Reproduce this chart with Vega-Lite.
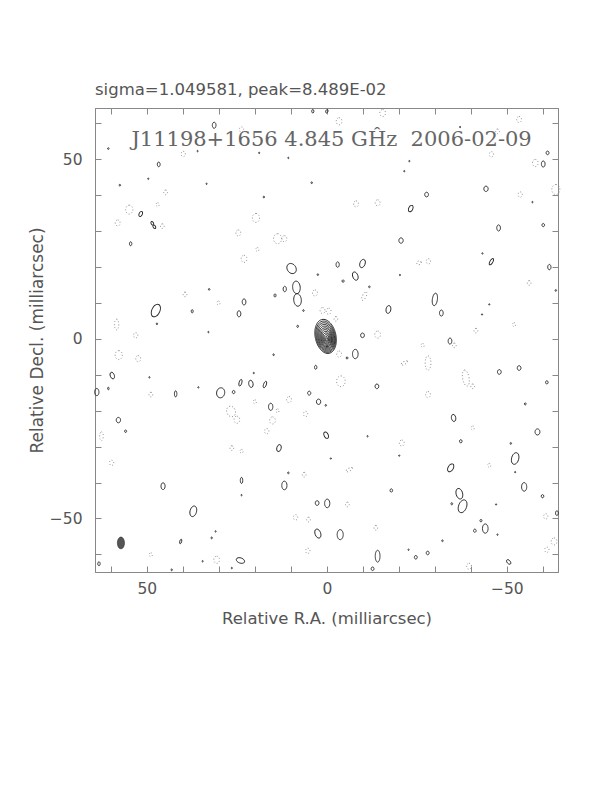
{
"$schema":"https://vega.github.io/schema/vega-lite/v6.json",
"width":463,"height":464,
"autosize":{"type":"none"},
"padding":{"left":95,"top":108,"right":54,"bottom":220},
"background":"white",
"config":{"view":{"stroke":"#888","strokeWidth":1},"font":"DejaVu Sans"},
"title":{"text":"sigma=1.049581, peak=8.489E-02","anchor":"start","frame":"group","font":"DejaVu Sans","fontSize":16.5,"fontWeight":"normal","color":"#555","offset":-4,"baseline":"alphabetic"},
"datasets":{
"contours":[
{"x":0.35,"y":0.70,"h":9.6,"k":"e","pa":-12,"s":"p"},
{"x":0.32,"y":0.62,"h":8.8,"k":"e","pa":-12,"s":"p"},
{"x":0.29,"y":0.55,"h":8.0,"k":"e","pa":-12,"s":"p"},
{"x":0.26,"y":0.47,"h":7.2,"k":"e","pa":-12,"s":"p"},
{"x":0.23,"y":0.39,"h":6.4,"k":"e","pa":-12,"s":"p"},
{"x":0.19,"y":0.31,"h":5.6,"k":"e","pa":-12,"s":"p"},
{"x":0.16,"y":0.23,"h":4.8,"k":"e","pa":-12,"s":"p"},
{"x":0.13,"y":0.16,"h":4.0,"k":"e","pa":-12,"s":"p"},
{"x":0.10,"y":0.08,"h":3.2,"k":"e","pa":-12,"s":"p"},
{"x":0.06,"y":0.00,"h":2.4,"k":"e","pa":-12,"s":"p"},
{"x":0.03,"y":-0.08,"h":1.6,"k":"e","pa":-12,"s":"p"},
{"x":0.00,"y":-0.15,"h":0.9,"k":"e","pa":-12,"s":"p"},
{"x":31.3,"y":59.5,"h":1.7,"k":"e","pa":0,"s":"p"},
{"x":46.7,"y":48.6,"h":1.3,"k":"e","pa":0,"s":"p"},
{"x":51.7,"y":34.8,"h":1.5,"k":"e","pa":25,"s":"p"},
{"x":48.2,"y":31.7,"h":2.2,"k":"8","pa":-30,"s":"p"},
{"x":54.5,"y":26.5,"h":1.1,"k":"e","pa":0,"s":"p"},
{"x":9.8,"y":19.6,"h":3.0,"k":"r","pa":-35,"s":"p"},
{"x":8.3,"y":12.6,"h":7.0,"k":"8","pa":-5,"s":"p"},
{"x":11.7,"y":13.9,"h":1.5,"k":"e","pa":0,"s":"p"},
{"x":14.4,"y":12.1,"h":0.9,"k":"e","pa":0,"s":"p"},
{"x":23.0,"y":10.3,"h":1.7,"k":"e","pa":0,"s":"p"},
{"x":24.4,"y":7.0,"h":1.7,"k":"e","pa":0,"s":"p"},
{"x":37.4,"y":7.7,"h":0.9,"k":"e","pa":0,"s":"p"},
{"x":47.5,"y":7.9,"h":3.7,"k":"e","pa":25,"s":"p"},
{"x":3.1,"y":-7.9,"h":1.1,"k":"e","pa":0,"s":"p"},
{"x":59.6,"y":-10.2,"h":1.9,"k":"e","pa":-20,"s":"p"},
{"x":60.7,"y":-13.8,"h":0.7,"k":"e","pa":0,"s":"p"},
{"x":63.9,"y":-14.8,"h":2.0,"k":"e","pa":0,"s":"p"},
{"x":42.0,"y":-15.3,"h":1.7,"k":"n","pa":0,"s":"p"},
{"x":29.5,"y":-15.0,"h":2.8,"k":"r","pa":10,"s":"p"},
{"x":25.9,"y":-14.8,"h":0.9,"k":"r","pa":0,"s":"p"},
{"x":24.0,"y":-12.2,"h":1.9,"k":"n","pa":15,"s":"p"},
{"x":21.1,"y":-12.5,"h":2.0,"k":"e","pa":-10,"s":"p"},
{"x":17.2,"y":-12.7,"h":1.9,"k":"n","pa":20,"s":"p"},
{"x":4.9,"y":-15.1,"h":1.1,"k":"r","pa":0,"s":"p"},
{"x":2.3,"y":-17.5,"h":1.5,"k":"r","pa":0,"s":"p"},
{"x":15.6,"y":-18.9,"h":2.0,"k":"e","pa":0,"s":"p"},
{"x":57.9,"y":-22.6,"h":1.5,"k":"r","pa":0,"s":"p"},
{"x":55.9,"y":-25.7,"h":0.7,"k":"r","pa":0,"s":"p"},
{"x":13.3,"y":-30.4,"h":2.0,"k":"e","pa":15,"s":"p"},
{"x":0.2,"y":-26.8,"h":1.9,"k":"e","pa":-25,"s":"p"},
{"x":45.5,"y":-41.0,"h":1.9,"k":"e","pa":0,"s":"p"},
{"x":23.7,"y":-39.4,"h":1.7,"k":"n","pa":0,"s":"p"},
{"x":11.8,"y":-40.8,"h":2.4,"k":"e","pa":0,"s":"p"},
{"x":2.7,"y":-45.7,"h":1.3,"k":"r","pa":0,"s":"p"},
{"x":-0.1,"y":-45.8,"h":2.4,"k":"e","pa":0,"s":"p"},
{"x":37.1,"y":-48.0,"h":3.0,"k":"e","pa":15,"s":"p"},
{"x":2.5,"y":-54.2,"h":2.6,"k":"e","pa":-20,"s":"p"},
{"x":40.6,"y":-56.4,"h":1.3,"k":"n","pa":15,"s":"p"},
{"x":24.0,"y":-61.7,"h":2.4,"k":"e","pa":-70,"s":"p"},
{"x":63.3,"y":-62.6,"h":1.1,"k":"e","pa":0,"s":"p"},
{"x":3.9,"y":63.4,"h":1.0,"k":"e","pa":0,"s":"p"},
{"x":0.0,"y":63.4,"h":1.0,"k":"e","pa":20,"s":"p"},
{"x":60.7,"y":53.0,"h":0.5,"k":"r","pa":0,"s":"p"},
{"x":57.5,"y":42.8,"h":0.5,"k":"r","pa":0,"s":"p"},
{"x":49.6,"y":44.6,"h":0.4,"k":"r","pa":0,"s":"p"},
{"x":33.4,"y":43.2,"h":0.4,"k":"r","pa":0,"s":"p"},
{"x":17.5,"y":39.5,"h":0.5,"k":"r","pa":0,"s":"p"},
{"x":10.7,"y":50.4,"h":0.4,"k":"r","pa":0,"s":"p"},
{"x":4.2,"y":43.5,"h":0.5,"k":"r","pa":0,"s":"p"},
{"x":18.8,"y":51.8,"h":0.4,"k":"r","pa":0,"s":"p"},
{"x":35.9,"y":52.3,"h":0.4,"k":"r","pa":0,"s":"p"},
{"x":32.7,"y":13.8,"h":0.5,"k":"r","pa":0,"s":"p"},
{"x":47.2,"y":4.2,"h":0.5,"k":"r","pa":0,"s":"p"},
{"x":8.1,"y":3.5,"h":0.6,"k":"r","pa":0,"s":"p"},
{"x":14.8,"y":-4.4,"h":0.5,"k":"r","pa":0,"s":"p"},
{"x":2.5,"y":17.9,"h":0.5,"k":"r","pa":0,"s":"p"},
{"x":6.5,"y":7.9,"h":0.5,"k":"r","pa":0,"s":"p"},
{"x":20.3,"y":-9.5,"h":0.4,"k":"r","pa":0,"s":"p"},
{"x":35.7,"y":-13.5,"h":0.4,"k":"r","pa":0,"s":"p"},
{"x":49.3,"y":-10.7,"h":0.4,"k":"r","pa":0,"s":"p"},
{"x":10.7,"y":-37.3,"h":0.5,"k":"r","pa":0,"s":"p"},
{"x":32.0,"y":-55.4,"h":0.5,"k":"r","pa":0,"s":"p"},
{"x":30.9,"y":-53.6,"h":0.4,"k":"r","pa":0,"s":"p"},
{"x":34.5,"y":-61.9,"h":0.4,"k":"r","pa":0,"s":"p"},
{"x":26.4,"y":-63.8,"h":0.4,"k":"r","pa":0,"s":"p"},
{"x":43.1,"y":-64.3,"h":0.5,"k":"r","pa":0,"s":"p"},
{"x":32.9,"y":1.9,"h":0.4,"k":"r","pa":0,"s":"p"},
{"x":23.7,"y":-43.5,"h":0.4,"k":"r","pa":0,"s":"p"},
{"x":-11.8,"y":14.5,"h":0.5,"k":"r","pa":0,"s":"p"},
{"x":-43.2,"y":23.8,"h":0.4,"k":"r","pa":0,"s":"p"},
{"x":-21.5,"y":46.7,"h":0.4,"k":"r","pa":0,"s":"p"},
{"x":-22.9,"y":49.5,"h":0.4,"k":"r","pa":0,"s":"p"},
{"x":-37.0,"y":59.0,"h":0.4,"k":"r","pa":0,"s":"p"},
{"x":-45.1,"y":9.6,"h":0.4,"k":"r","pa":0,"s":"p"},
{"x":-43.1,"y":6.8,"h":0.4,"k":"r","pa":0,"s":"p"},
{"x":-20.3,"y":17.8,"h":0.4,"k":"r","pa":0,"s":"p"},
{"x":-51.1,"y":-29.1,"h":0.5,"k":"r","pa":0,"s":"p"},
{"x":-11.3,"y":-27.1,"h":0.4,"k":"r","pa":0,"s":"p"},
{"x":-20.1,"y":-32.5,"h":0.4,"k":"r","pa":0,"s":"p"},
{"x":-63.6,"y":13.5,"h":0.5,"k":"r","pa":0,"s":"p"},
{"x":0.3,"y":-18.5,"h":0.5,"k":"r","pa":0,"s":"p"},
{"x":-1.1,"y":-33.3,"h":0.4,"k":"r","pa":0,"s":"p"},
{"x":-32.1,"y":-56.2,"h":0.5,"k":"r","pa":0,"s":"p"},
{"x":-22.7,"y":-58.7,"h":0.4,"k":"r","pa":0,"s":"p"},
{"x":-47.4,"y":-54.5,"h":0.4,"k":"r","pa":0,"s":"p"},
{"x":-47.0,"y":-46.1,"h":0.4,"k":"r","pa":0,"s":"p"},
{"x":-52.3,"y":-37.1,"h":0.4,"k":"r","pa":0,"s":"p"},
{"x":-57.1,"y":38.1,"h":0.4,"k":"r","pa":0,"s":"p"},
{"x":-60.1,"y":48.7,"h":1.7,"k":"e","pa":0,"s":"p"},
{"x":-61.3,"y":51.8,"h":1.0,"k":"r","pa":0,"s":"p"},
{"x":-27.7,"y":40.2,"h":1.3,"k":"r","pa":0,"s":"p"},
{"x":-44.2,"y":41.8,"h":1.5,"k":"r","pa":0,"s":"p"},
{"x":-23.3,"y":36.3,"h":1.9,"k":"e","pa":25,"s":"p"},
{"x":-47.7,"y":30.9,"h":1.7,"k":"e","pa":0,"s":"p"},
{"x":-60.1,"y":31.7,"h":0.9,"k":"r","pa":0,"s":"p"},
{"x":-20.6,"y":27.4,"h":1.5,"k":"r","pa":0,"s":"p"},
{"x":-3.0,"y":20.7,"h":1.5,"k":"e","pa":0,"s":"p"},
{"x":-9.9,"y":21.0,"h":2.4,"k":"e","pa":20,"s":"p"},
{"x":-7.9,"y":17.5,"h":2.4,"k":"e","pa":-20,"s":"p"},
{"x":-4.5,"y":16.1,"h":0.7,"k":"r","pa":0,"s":"p"},
{"x":-45.7,"y":21.5,"h":2.0,"k":"n","pa":30,"s":"p"},
{"x":-61.8,"y":20.0,"h":1.5,"k":"e","pa":0,"s":"p"},
{"x":-17.1,"y":8.2,"h":2.2,"k":"e","pa":10,"s":"p"},
{"x":-30.0,"y":11.0,"h":3.5,"k":"n","pa":8,"s":"p"},
{"x":-31.8,"y":7.2,"h":1.7,"k":"e","pa":0,"s":"p"},
{"x":-9.9,"y":1.0,"h":1.3,"k":"r","pa":0,"s":"p"},
{"x":-34.2,"y":-0.6,"h":1.7,"k":"e","pa":0,"s":"p"},
{"x":-7.9,"y":-4.2,"h":2.6,"k":"e","pa":0,"s":"p"},
{"x":-5.6,"y":-5.3,"h":0.6,"k":"r","pa":0,"s":"p"},
{"x":-47.9,"y":-9.2,"h":1.3,"k":"r","pa":0,"s":"p"},
{"x":-53.4,"y":-8.1,"h":1.3,"k":"r","pa":0,"s":"p"},
{"x":-61.1,"y":-12.1,"h":0.9,"k":"r","pa":0,"s":"p"},
{"x":-13.9,"y":-13.2,"h":1.3,"k":"r","pa":0,"s":"p"},
{"x":-35.2,"y":-22.0,"h":2.0,"k":"e","pa":-10,"s":"p"},
{"x":-55.1,"y":-18.1,"h":0.6,"k":"r","pa":0,"s":"p"},
{"x":-37.2,"y":-28.5,"h":0.9,"k":"r","pa":0,"s":"p"},
{"x":-58.5,"y":-25.9,"h":1.7,"k":"r","pa":0,"s":"p"},
{"x":-52.3,"y":-33.3,"h":3.3,"k":"e","pa":15,"s":"p"},
{"x":-34.4,"y":-35.9,"h":2.4,"k":"e","pa":30,"s":"p"},
{"x":-17.9,"y":-42.2,"h":0.9,"k":"r","pa":0,"s":"p"},
{"x":-36.8,"y":-43.1,"h":3.0,"k":"e","pa":-15,"s":"p"},
{"x":-37.7,"y":-46.6,"h":3.7,"k":"e","pa":20,"s":"p"},
{"x":-34.7,"y":-45.9,"h":0.6,"k":"r","pa":0,"s":"p"},
{"x":-54.8,"y":-41.2,"h":2.4,"k":"e","pa":0,"s":"p"},
{"x":-59.9,"y":-43.8,"h":0.9,"k":"r","pa":0,"s":"p"},
{"x":-3.7,"y":-54.5,"h":2.8,"k":"e","pa":0,"s":"p"},
{"x":-44.0,"y":-52.8,"h":2.6,"k":"e","pa":0,"s":"p"},
{"x":-41.1,"y":-53.4,"h":0.9,"k":"r","pa":0,"s":"p"},
{"x":-42.8,"y":-50.6,"h":0.7,"k":"r","pa":0,"s":"p"},
{"x":-14.1,"y":-60.5,"h":3.3,"k":"n","pa":0,"s":"p"},
{"x":-12.7,"y":-64.0,"h":1.0,"k":"r","pa":0,"s":"p"},
{"x":-24.7,"y":-60.8,"h":1.0,"k":"r","pa":0,"s":"p"},
{"x":-28.0,"y":-59.6,"h":1.0,"k":"r","pa":0,"s":"p"},
{"x":-50.5,"y":-62.1,"h":1.5,"k":"e","pa":-40,"s":"p"},
{"x":-63.9,"y":-48.5,"h":1.3,"k":"e","pa":0,"s":"p"},
{"x":23.7,"y":58.3,"h":1.5,"k":"r","pa":0,"s":"n"},
{"x":39.9,"y":51.5,"h":1.5,"k":"r","pa":0,"s":"n"},
{"x":44.8,"y":40.8,"h":1.3,"k":"r","pa":0,"s":"n"},
{"x":47.0,"y":37.4,"h":1.1,"k":"r","pa":0,"s":"n"},
{"x":54.9,"y":36.0,"h":2.5,"k":"r","pa":0,"s":"n"},
{"x":58.1,"y":32.3,"h":1.7,"k":"r","pa":0,"s":"n"},
{"x":45.7,"y":31.4,"h":1.3,"k":"r","pa":0,"s":"n"},
{"x":19.7,"y":33.7,"h":2.5,"k":"r","pa":0,"s":"n"},
{"x":24.6,"y":29.5,"h":1.7,"k":"r","pa":0,"s":"n"},
{"x":13.7,"y":27.9,"h":2.8,"k":"r","pa":0,"s":"n"},
{"x":11.8,"y":27.9,"h":1.7,"k":"r","pa":0,"s":"n"},
{"x":23.0,"y":22.3,"h":2.0,"k":"r","pa":0,"s":"n"},
{"x":19.3,"y":24.9,"h":1.1,"k":"r","pa":0,"s":"n"},
{"x":39.4,"y":12.4,"h":1.3,"k":"r","pa":0,"s":"n"},
{"x":30.1,"y":10.0,"h":1.1,"k":"r","pa":0,"s":"n"},
{"x":3.3,"y":12.8,"h":1.7,"k":"r","pa":0,"s":"n"},
{"x":1.2,"y":7.9,"h":1.7,"k":"r","pa":0,"s":"n"},
{"x":58.4,"y":4.0,"h":3.0,"k":"n","pa":0,"s":"n"},
{"x":53.1,"y":1.0,"h":1.5,"k":"r","pa":0,"s":"n"},
{"x":57.8,"y":-4.5,"h":2.5,"k":"r","pa":0,"s":"n"},
{"x":52.4,"y":-5.5,"h":1.7,"k":"r","pa":0,"s":"n"},
{"x":48.9,"y":-15.5,"h":1.3,"k":"r","pa":0,"s":"n"},
{"x":26.6,"y":-20.2,"h":3.0,"k":"r","pa":-20,"s":"n"},
{"x":25.0,"y":-22.5,"h":2.0,"k":"r","pa":0,"s":"n"},
{"x":20.0,"y":-17.5,"h":1.1,"k":"r","pa":0,"s":"n"},
{"x":10.5,"y":-16.9,"h":1.7,"k":"r","pa":0,"s":"n"},
{"x":5.9,"y":-20.9,"h":1.5,"k":"r","pa":0,"s":"n"},
{"x":15.1,"y":-22.7,"h":2.0,"k":"r","pa":0,"s":"n"},
{"x":16.7,"y":-25.7,"h":1.5,"k":"r","pa":0,"s":"n"},
{"x":62.6,"y":-27.1,"h":2.5,"k":"n","pa":0,"s":"n"},
{"x":26.4,"y":-30.4,"h":1.3,"k":"r","pa":0,"s":"n"},
{"x":23.7,"y":-31.3,"h":1.1,"k":"r","pa":0,"s":"n"},
{"x":59.8,"y":-34.5,"h":1.5,"k":"r","pa":0,"s":"n"},
{"x":6.3,"y":-37.8,"h":1.3,"k":"r","pa":0,"s":"n"},
{"x":8.7,"y":-49.7,"h":1.5,"k":"r","pa":0,"s":"n"},
{"x":5.1,"y":-50.3,"h":1.3,"k":"r","pa":0,"s":"n"},
{"x":5.3,"y":-59.0,"h":1.5,"k":"r","pa":0,"s":"n"},
{"x":48.9,"y":-60.1,"h":1.1,"k":"r","pa":0,"s":"n"},
{"x":30.6,"y":-61.5,"h":2.0,"k":"r","pa":0,"s":"n"},
{"x":13.7,"y":-20.0,"h":1.1,"k":"r","pa":0,"s":"n"},
{"x":-15.5,"y":62.9,"h":2.0,"k":"r","pa":0,"s":"n"},
{"x":-3.4,"y":60.6,"h":2.0,"k":"r","pa":0,"s":"n"},
{"x":-53.4,"y":61.1,"h":1.7,"k":"r","pa":0,"s":"n"},
{"x":-47.4,"y":57.8,"h":1.3,"k":"r","pa":0,"s":"n"},
{"x":-45.7,"y":51.4,"h":1.5,"k":"r","pa":0,"s":"n"},
{"x":-57.9,"y":49.0,"h":2.0,"k":"r","pa":0,"s":"n"},
{"x":-63.6,"y":41.6,"h":2.8,"k":"r","pa":0,"s":"n"},
{"x":-53.7,"y":40.2,"h":1.5,"k":"r","pa":0,"s":"n"},
{"x":-8.1,"y":37.6,"h":1.7,"k":"r","pa":0,"s":"n"},
{"x":-14.1,"y":37.9,"h":1.7,"k":"r","pa":0,"s":"n"},
{"x":-25.6,"y":21.2,"h":1.3,"k":"r","pa":70,"s":"n"},
{"x":-28.2,"y":21.6,"h":1.5,"k":"r","pa":0,"s":"n"},
{"x":-56.2,"y":15.6,"h":1.3,"k":"r","pa":0,"s":"n"},
{"x":-10.4,"y":11.9,"h":2.5,"k":"n","pa":30,"s":"n"},
{"x":-0.5,"y":7.7,"h":1.7,"k":"r","pa":0,"s":"n"},
{"x":-2.5,"y":5.6,"h":1.3,"k":"r","pa":0,"s":"n"},
{"x":-14.1,"y":1.2,"h":2.0,"k":"r","pa":0,"s":"n"},
{"x":-3.4,"y":-4.2,"h":1.7,"k":"r","pa":0,"s":"n"},
{"x":-3.9,"y":-11.8,"h":3.0,"k":"r","pa":0,"s":"n"},
{"x":-21.5,"y":-6.7,"h":2.0,"k":"n","pa":60,"s":"n"},
{"x":-28.1,"y":-6.7,"h":4.0,"k":"n","pa":0,"s":"n"},
{"x":-28.1,"y":-15.5,"h":1.7,"k":"r","pa":0,"s":"n"},
{"x":-38.6,"y":-10.9,"h":4.5,"k":"n","pa":-10,"s":"n"},
{"x":-40.5,"y":-13.2,"h":1.3,"k":"r","pa":0,"s":"n"},
{"x":-41.4,"y":2.3,"h":1.3,"k":"r","pa":0,"s":"n"},
{"x":-52.0,"y":4.0,"h":1.1,"k":"r","pa":0,"s":"n"},
{"x":-26.6,"y":-1.8,"h":1.1,"k":"r","pa":0,"s":"n"},
{"x":-35.4,"y":-1.8,"h":1.3,"k":"r","pa":0,"s":"n"},
{"x":-6.2,"y":-36.4,"h":2.0,"k":"n","pa":60,"s":"n"},
{"x":-45.1,"y":-35.2,"h":1.1,"k":"r","pa":0,"s":"n"},
{"x":-5.7,"y":-46.1,"h":1.3,"k":"r","pa":0,"s":"n"},
{"x":-20.8,"y":-29.0,"h":1.7,"k":"r","pa":0,"s":"n"},
{"x":-13.6,"y":-52.6,"h":1.3,"k":"r","pa":0,"s":"n"},
{"x":-39.5,"y":-63.3,"h":1.7,"k":"r","pa":0,"s":"n"},
{"x":-63.1,"y":-56.4,"h":2.0,"k":"r","pa":0,"s":"n"},
{"x":-61.1,"y":-58.7,"h":1.5,"k":"r","pa":0,"s":"n"},
{"x":-60.8,"y":-49.4,"h":1.5,"k":"r","pa":0,"s":"n"},
{"x":-40.5,"y":-24.8,"h":1.1,"k":"r","pa":0,"s":"n"}
],
"beam":[{"x":57.2,"y":-56.8,"h":3.3,"k":"e","pa":0}],
"label":[{"t":"J11198+1656 4.845 GĤz\u00a0 2006-02-09","x":-1.3,"y":53.6}]
},
"layer":[
{"data":{"name":"contours"},
 "mark":{"type":"point","filled":false,"strokeWidth":0.9,"opacity":1},
 "encoding":{
  "x":{"field":"x","type":"quantitative","scale":{"domain":[64.4,-64.2],"nice":false,"zero":false},
   "axis":{"orient":"bottom","values":[-60,-50,-40,-30,-20,-10,0,10,20,30,40,50,60],"tickSize":-6,"labelPadding":15,
    "labelExpr":"datum.value % 50 == 0 ? datum.label : ''","grid":false,"domainColor":"#888","tickColor":"#888",
    "labelColor":"#555","labelFont":"DejaVu Sans","labelFontSize":15.5,"labelFlush":false,"labelOverlap":false,
    "title":"Relative R.A. (milliarcsec)","titleFont":"DejaVu Sans","titleFontSize":16.5,"titleFontWeight":"normal","titleColor":"#555","titlePadding":14}},
  "y":{"field":"y","type":"quantitative","scale":{"domain":[-64.9,64.3],"nice":false,"zero":false},
   "axis":{"orient":"left","values":[-60,-50,-40,-30,-20,-10,0,10,20,30,40,50,60],"tickSize":-6,"labelPadding":19,"labelAngle":0,
    "labelExpr":"datum.value % 50 == 0 ? datum.label : ''","grid":false,"domainColor":"#888","tickColor":"#888",
    "labelColor":"#555","labelFont":"DejaVu Sans","labelFontSize":15.5,"labelFlush":false,"labelOverlap":false,
    "title":"Relative Decl. (milliarcsec)","titleFont":"DejaVu Sans","titleFontSize":17,"titleFontWeight":"normal","titleColor":"#555","titlePadding":3}},
  "size":{"field":"h","type":"quantitative","scale":{"type":"pow","exponent":2,"domain":[0,10],"range":[0,1296]},"legend":null},
  "shape":{"field":"k","type":"nominal","scale":{"domain":["e","r","n","8"],"range":[
    "M0,-1A0.6,1,0,1,1,0,1A0.6,1,0,1,1,0,-1Z",
    "M0,-1A0.8,1,0,1,1,0,1A0.8,1,0,1,1,0,-1Z",
    "M0,-1A0.4,1,0,1,1,0,1A0.4,1,0,1,1,0,-1Z",
    "M0,-1A0.3,0.5,0,1,1,0,0A0.3,0.5,0,1,1,0,-1ZM0,0A0.3,0.5,0,1,1,0,1A0.3,0.5,0,1,1,0,0Z"]},"legend":null},
  "angle":{"field":"pa","type":"quantitative","scale":null},
  "stroke":{"field":"s","type":"nominal","scale":{"domain":["p","n"],"range":["#222222","#8a8a8a"]},"legend":null},
  "strokeDash":{"field":"s","type":"nominal","scale":{"domain":["p","n"],"range":[[1,0],[1,2]]},"legend":null}
 }},
{"data":{"name":"beam"},
 "mark":{"type":"point","filled":true,"fill":"#555555","stroke":"#333333","strokeWidth":0.6,"opacity":1},
 "encoding":{
  "x":{"field":"x","type":"quantitative","axis":null},
  "y":{"field":"y","type":"quantitative","axis":null},
  "size":{"field":"h","type":"quantitative","legend":null},
  "shape":{"field":"k","type":"nominal","legend":null},
  "angle":{"field":"pa","type":"quantitative","scale":null}
 }},
{"data":{"name":"label"},
 "mark":{"type":"text","font":"DejaVu Serif","fontSize":21,"color":"#666666","baseline":"alphabetic","align":"center"},
 "encoding":{
  "x":{"field":"x","type":"quantitative","axis":null},
  "y":{"field":"y","type":"quantitative","axis":null},
  "text":{"field":"t"}
 }},
{"data":{"name":"beam"},
 "mark":{"type":"point","opacity":0},
 "encoding":{
  "x":{"field":"x","type":"quantitative","axis":{"orient":"top","values":[-60,-50,-40,-30,-20,-10,0,10,20,30,40,50,60],"tickSize":-6,"labels":false,"title":null,"grid":false,"domainColor":"#888","tickColor":"#888"}},
  "y":{"field":"y","type":"quantitative","axis":{"orient":"right","values":[-60,-50,-40,-30,-20,-10,0,10,20,30,40,50,60],"tickSize":-6,"labels":false,"title":null,"grid":false,"domainColor":"#888","tickColor":"#888"}}
 }}
],
"resolve":{"axis":{"x":"independent","y":"independent"}}
}
